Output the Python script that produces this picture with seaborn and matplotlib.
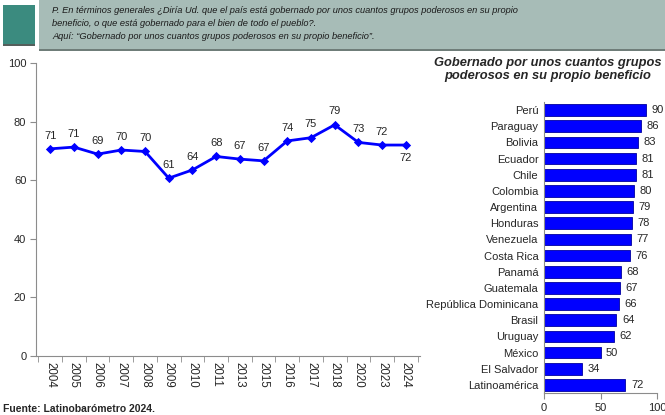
import matplotlib
matplotlib.use("Agg")
import matplotlib.pyplot as plt
from matplotlib.patches import Rectangle
import numpy as np
import pandas as pd
import seaborn as sns

years = ["2004", "2005", "2006", "2007", "2008", "2009", "2010", "2011",
         "2013", "2015", "2016", "2017", "2018", "2020", "2023", "2024"]
trend = [70.7, 71.3, 68.9, 70.3, 69.8, 60.7, 63.5, 68.1,
         67.2, 66.6, 73.4, 74.5, 78.9, 72.9, 72.0, 72.0]
trend_labels = [71, 71, 69, 70, 70, 61, 64, 68, 67, 67, 74, 75, 79, 73, 72, 72]

countries = ["Perú", "Paraguay", "Bolivia", "Ecuador", "Chile", "Colombia",
             "Argentina", "Honduras", "Venezuela", "Costa Rica", "Panamá",
             "Guatemala", "República Dominicana", "Brasil", "Uruguay",
             "México", "El Salvador", "Latinoamérica"]
country_vals = [90, 86, 83, 81, 81, 80, 79, 78, 77, 76, 68, 67, 66, 64, 62, 50, 34, 72]

sns.set_style("white")
plt.rcParams["font.family"] = ["Liberation Sans", "DejaVu Sans"]

W, H = 665, 415
fig = plt.figure(figsize=(W / 100, H / 100), dpi=100)

def fx(px):
    return px / W

def fy(py):
    return 1 - py / H

# header boxes
fig.patches.append(Rectangle((fx(3), fy(45)), fx(32), 40 / H, transform=fig.transFigure,
                             facecolor="#3b8b7f", edgecolor="none"))
fig.patches.append(Rectangle((fx(3), fy(46)), fx(32), 2 / H, transform=fig.transFigure,
                             facecolor="#555f5c", edgecolor="none"))
fig.patches.append(Rectangle((fx(39), fy(50)), fx(626), 50 / H, transform=fig.transFigure,
                             facecolor="#a7bcb7", edgecolor="none"))
fig.patches.append(Rectangle((fx(39), fy(51)), fx(626), 1.5 / H, transform=fig.transFigure,
                             facecolor="#6f7d79", edgecolor="none"))
header = ("P. En términos generales ¿Diría Ud. que el país está gobernado por unos cuantos grupos poderosos en su propio\n"
          "beneficio, o que está gobernado para el bien de todo el pueblo?.\n"
          "Aquí: \u201cGobernado por unos cuantos grupos poderosos en su propio beneficio\u201d.")
fig.text(fx(52), fy(6), header, ha="left", va="top", fontsize=6.7, style="italic",
         color="#1a1a1a", linespacing=1.55)

# line chart
ax1 = fig.add_axes([fx(36), fy(356), fx(420 - 36), (356 - 63) / H])
df1 = pd.DataFrame({"year": years, "value": trend})
sns.pointplot(data=df1, x="year", y="value", color="#0000ff", markers="D",
              markersize=3.2, linewidth=2, ax=ax1)
ax1.set_ylim(0, 100)
ax1.set_xlim(-0.6, len(years) - 0.4)
ax1.set_yticks([0, 20, 40, 60, 80, 100])
ax1.set_xlabel("")
ax1.set_ylabel("")
for s in ["top", "right"]:
    ax1.spines[s].set_visible(False)
for s in ["left", "bottom"]:
    ax1.spines[s].set_color("#8c8c8c")
    ax1.spines[s].set_linewidth(0.8)
ax1.tick_params(axis="y", length=4, color="#8c8c8c", labelsize=8, pad=3, left=True)
ax1.tick_params(axis="x", length=0, labelsize=8.3, pad=4, labelrotation=270)
ax1.set_xticks(np.arange(len(years) + 1) - 0.5, minor=True)
ax1.tick_params(axis="x", which="minor", length=4, color="#8c8c8c", bottom=True)
for i, (v, lab) in enumerate(zip(trend, trend_labels)):
    if i == len(trend) - 1:
        ax1.annotate(str(lab), (i, v), xytext=(0, -6), textcoords="offset points",
                     ha="center", va="top", fontsize=8)
    else:
        ax1.annotate(str(lab), (i, v), xytext=(0, 6), textcoords="offset points",
                     ha="center", va="bottom", fontsize=8)

# bar chart
ax2 = fig.add_axes([fx(544), fy(393), fx(657 - 544), (393 - 102) / H])
df2 = pd.DataFrame({"country": countries, "value": country_vals})
sns.barplot(data=df2, y="country", x="value", color="#0000ff", saturation=1,
            width=0.72, edgecolor="#0000a0", linewidth=0.6, ax=ax2)
ax2.set_xlim(0, 100)
ax2.set_xticks([0, 50, 100])
ax2.set_xlabel("")
ax2.set_ylabel("")
for s in ["top", "right"]:
    ax2.spines[s].set_visible(False)
for s in ["left", "bottom"]:
    ax2.spines[s].set_color("#8c8c8c")
    ax2.spines[s].set_linewidth(0.8)
ax2.tick_params(axis="x", length=4, color="#8c8c8c", labelsize=8, bottom=True)
ax2.tick_params(axis="y", length=0, labelsize=8, pad=4)
for i, v in enumerate(country_vals):
    ax2.annotate(str(v), (v, i), xytext=(4, 0), textcoords="offset points",
                 ha="left", va="center", fontsize=8)

fig.text(fx(548), fy(57), "Gobernado por unos cuantos grupos\npoderosos en su propio beneficio",
         ha="center", va="top", fontsize=9.3, fontweight="bold", style="italic",
         linespacing=1.15)

fig.text(fx(3), fy(414), "Fuente: Latinobarómetro 2024.", ha="left", va="bottom",
         fontsize=7.5, fontweight="bold")

fig.savefig("out.png", dpi=100)
